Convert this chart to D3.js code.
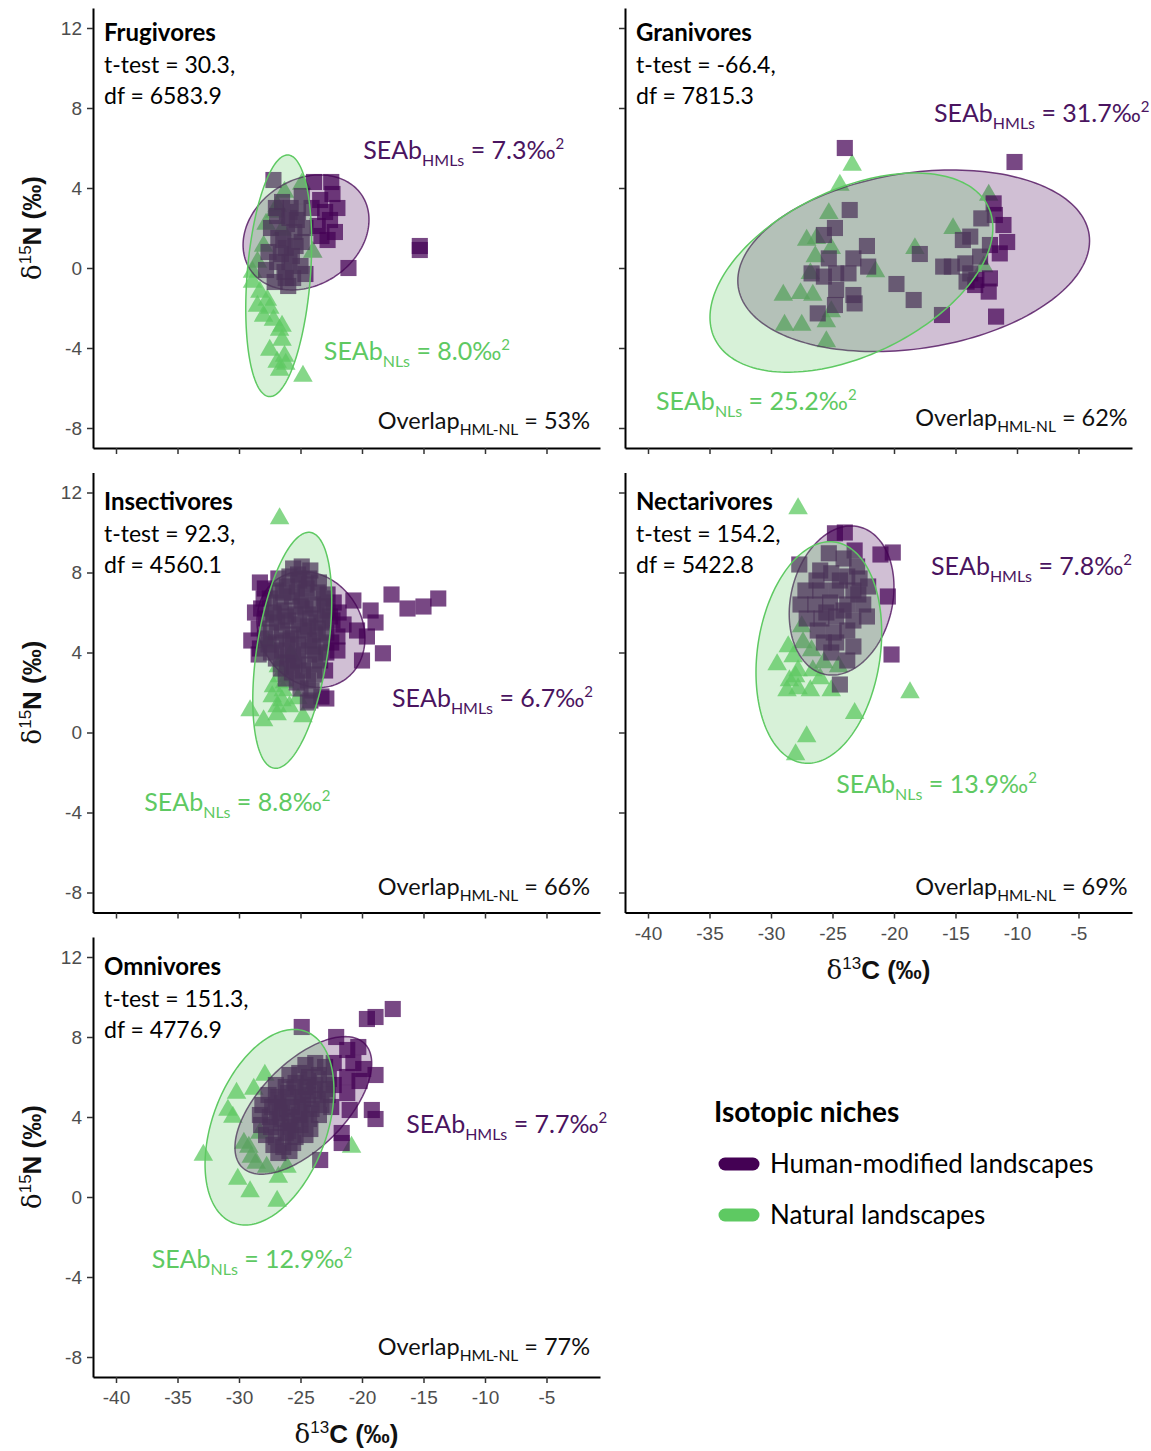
<!DOCTYPE html>
<html>
<head>
<meta charset="utf-8">
<script src="https://cdnjs.cloudflare.com/ajax/libs/d3/7.8.5/d3.min.js"></script>
<style>
  body { margin: 0; background: #fff; }
</style>
</head>
<body>
<div id="chart"></div>
<script>
// panel annotations
const guilds = ["Frugivores", "Granivores", "Insectivores", "Nectarivores", "Omnivores"];
const tTests = ["30.3", "-66.4", "92.3", "154.2", "151.3"];
const dfs = ["6583.9", "7815.3", "4560.1", "5422.8", "4776.9"];
const seabHML = ["7.3", "31.7", "6.7", "7.8", "7.7"];
const seabNL = ["8.0", "25.2", "8.8", "13.9", "12.9"];
const overlaps = ["53", "62", "66", "69", "77"];

const xTicks = [-40, -35, -30, -25, -20, -15, -10, -5];
const yTicks = [-8, -4, 0, 4, 8, 12];

// δ13C, δ15N of individuals: human-modified (HML) and natural (NL) landscapes
const frugHML = [[-27.2,4.4],[-26.5,3.3],[-25.8,3.0],[-26.9,2.6],[-25.2,2.8],[-26.1,2.2],[-27.4,2.0],[-25.5,1.8],[-26.8,1.5],
  [-24.9,1.3],[-26.2,1.0],[-27.6,0.8],[-25.7,0.6],[-26.9,0.3],[-25.0,0.1],[-26.3,-0.2],[-27.8,-0.1],[-25.6,-0.5],[-24.6,-0.3],
  [-27.1,-0.7],[-26.0,-0.9],[-25.3,2.4],[-24.6,2.0],[-24.9,3.6],[-27.0,3.0],[-26.4,1.4],[-25.9,0.3],[-23.9,4.3],[-22.5,4.3],
  [-22.4,3.7],[-23.4,3.4],[-22.0,3.0],[-23.0,2.8],[-22.6,2.4],[-23.6,2.1],[-22.2,1.8],[-22.8,1.4],[-23.3,1.6],[-24.1,3.0],
  [-21.1,0.0],[-15.3,1.1],[-15.3,0.9],[-25.9,2.5],[-26.6,0.7],[-25.4,1.1],[-26.2,-0.5]];
const frugNL = [[-24.9,4.2],[-26.3,3.8],[-26.9,3.1],[-27.1,2.8],[-24.0,0.8],[-28.0,1.1],[-28.5,0.3],[-28.9,-0.2],[-28.9,-0.7],
  [-28.3,-1.2],[-27.7,-1.6],[-28.5,-1.9],[-27.5,-2.0],[-28.0,-2.4],[-27.2,-2.6],[-26.7,-3.1],[-26.5,-2.9],[-26.5,-3.6],
  [-27.5,-4.1],[-26.3,-4.4],[-26.2,-4.8],[-26.9,-4.7],[-26.7,-5.1],[-24.8,-5.4],[-26.5,1.9],[-27.8,2.2]];

const granHML = [[-24.0,6.0],[-10.2,5.3],[-23.6,2.9],[-24.8,2.0],[-25.7,1.65],[-22.2,1.1],[-25.3,0.48],[-23.3,0.48],[-26.7,-0.27],
  [-25.7,-0.43],[-24.7,-0.27],[-23.7,-0.27],[-22.1,0.07],[-19.8,-0.8],[-18.4,-1.6],[-24.7,-1.1],[-23.3,-1.35],[-23.2,-1.77],
  [-24.8,-1.85],[-26.2,-2.27],[-17.9,0.7],[-16.1,-2.35],[-16.0,0.07],[-15.3,0.07],[-14.2,0.23],[-14.4,1.4],[-13.8,1.57],
  [-12.9,2.48],[-11.9,3.23],[-11.8,2.65],[-11.1,2.15],[-10.8,1.3],[-12.2,1.15],[-11.4,0.73],[-13.0,0.57],[-14.1,-0.68],
  [-13.3,-0.6],[-12.2,-0.52],[-12.3,-1.18],[-11.7,-2.43],[-13.4,-0.85],[-13.8,-0.27]];
const granNL = [[-23.4,5.15],[-24.4,4.15],[-25.3,2.73],[-27.1,1.4],[-26.3,1.48],[-25.1,0.98],[-26.4,0.57],[-21.5,-0.18],
  [-18.3,0.98],[-15.2,1.98],[-12.3,3.65],[-29.0,-1.35],[-27.6,-1.27],[-26.6,-1.35],[-28.9,-2.85],[-27.5,-2.85],[-25.5,-2.68],
  [-25.5,-3.68],[-25.1,-2.18],[-26.8,-0.27],[-12.7,0.07]];

const insHML = [[-25.6,8.2],[-24.9,8.3],[-24.2,8.1],
  [-26.8,7.7],[-25.9,7.8],[-25.1,7.6],[-24.3,7.7],[-23.5,7.5],
  [-27.9,7.2],[-27.0,7.1],[-26.1,7.3],[-25.3,7.0],[-24.5,7.2],[-23.6,7.0],[-22.8,6.9],
  [-27.5,6.7],[-26.6,6.5],[-25.7,6.8],[-24.9,6.6],[-24.0,6.4],[-23.1,6.7],[-22.3,6.5],
  [-28.2,6.2],[-27.2,6.0],[-26.3,6.1],[-25.4,5.9],[-24.6,6.2],[-23.7,5.9],[-22.8,6.1],[-21.9,6.0],
  [-27.8,5.7],[-26.9,5.5],[-26.0,5.6],[-25.1,5.4],[-24.2,5.7],[-23.3,5.5],[-22.4,5.6],[-21.5,5.4],
  [-28.4,5.2],[-27.4,5.0],[-26.5,5.1],[-25.6,4.9],[-24.7,5.1],[-23.8,4.9],[-22.9,5.0],[-22.0,4.8],
  [-27.9,4.7],[-27.0,4.5],[-26.1,4.6],[-25.2,4.4],[-24.3,4.6],[-23.4,4.4],[-22.5,4.5],
  [-28.3,4.2],[-27.4,4.0],[-26.5,4.1],[-25.6,3.9],[-24.7,4.1],[-23.8,3.9],[-22.9,4.0],[-22.0,4.1],
  [-27.0,3.7],[-26.1,3.5],[-25.2,3.6],[-24.3,3.4],[-23.4,3.6],
  [-26.6,3.2],[-25.7,3.0],[-24.8,3.1],[-23.9,2.9],[-23.0,3.1],
  [-26.2,2.7],[-25.3,2.5],[-24.4,2.6],[-25.0,2.2],[-24.1,2.1],
  [-25.2,7.9],[-24.6,7.4],[-26.4,7.0],[-25.0,6.3],[-26.2,5.8],[-24.4,5.3],[-25.8,4.7],[-24.0,4.3],
  [-26.0,3.8],[-23.6,5.2],[-22.6,5.8],[-27.2,5.9],[-27.6,4.4],[-23.0,6.3],[-25.5,3.3],
  [-28.3,7.5],[-28.7,6.0],[-29.0,4.6],[-28.4,3.9],[-28.0,6.7],
  [-19.3,6.1],[-18.9,5.5],[-19.6,4.8],[-20.0,3.6],[-18.3,3.96],[-20.7,6.6],[-20.4,5.1],
  [-22.9,1.7],[-24.4,1.5],[-24.2,1.6],[-23.3,1.8],
  [-17.6,6.9],[-16.3,6.2],[-15.0,6.3],[-13.8,6.7]];
const insNL = [[-26.7,10.7],[-26.7,2.8],[-27.2,2.3],[-26.4,2.1],[-27.3,1.8],[-26.5,1.6],[-26.9,1.3],[-25.9,1.3],
  [-29.1,1.1],[-28.0,0.6],[-26.9,0.9],[-24.8,0.8],[-25.2,1.7],[-26.3,2.5],[-26.8,3.3],[-25.8,3.9],[-27.6,4.5]];

const nectHML = [[-24.8,9.96],[-24.0,10.0],[-23.2,9.1],[-21.1,8.9],[-20.1,9.0],[-27.7,8.4],[-25.3,8.96],[-24.1,8.7],
  [-26.0,8.1],[-25.1,7.96],[-23.8,7.8],[-22.8,7.7],[-27.2,7.1],[-26.0,7.1],[-24.7,7.1],[-23.3,7.1],[-22.1,7.3],[-20.5,6.8],
  [-27.6,6.4],[-26.4,6.4],[-25.2,6.5],[-23.8,6.4],[-22.5,6.4],[-27.1,5.7],[-25.9,5.7],[-24.7,5.8],[-23.3,5.6],[-22.2,5.8],
  [-26.2,5.1],[-24.9,5.0],[-23.8,5.1],[-25.7,4.5],[-24.7,4.5],[-23.3,4.3],[-25.1,4.0],[-23.8,3.6],[-20.2,3.9],[-24.4,2.4],
  [-26.3,7.6],[-24.4,7.6],[-23.0,8.3],[-25.5,6.0],[-24.1,6.1],[-22.9,6.9]];
const nectNL = [[-27.8,11.2],[-18.7,2.0],[-23.2,0.96],[-27.1,-0.2],[-28.0,-1.1],[-29.5,3.4],[-28.6,4.3],[-28.2,3.8],
  [-27.8,3.1],[-28.5,2.6],[-28.7,2.1],[-27.8,2.2],[-26.8,2.1],[-26.0,2.7],[-26.6,3.1],[-25.1,2.1],[-27.4,4.5],[-27.5,5.3],
  [-26.7,4.1],[-25.7,3.5],[-24.5,3.3],[-28.0,2.8]];

const omniHML = [[-17.5,9.4],[-18.9,9.0],[-19.6,8.9],[-24.9,8.5],[-22.1,8.0],[-20.3,7.5],[-21.2,7.35],[-20.7,6.7],
  [-19.9,6.4],[-18.9,6.1],[-21.2,6.0],[-22.3,6.7],[-21.2,5.2],[-21.0,4.35],[-19.2,4.35],[-18.9,3.9],[-21.65,2.7],
  [-23.4,1.85],[-20.2,5.8],[-21.65,3.2],
  [-24.6,6.6],[-23.8,6.7],[-23.0,6.5],
  [-25.9,6.1],[-25.1,6.2],[-24.3,6.0],[-23.5,6.1],[-22.7,5.9],
  [-27.0,5.6],[-26.2,5.5],[-25.4,5.7],[-24.6,5.5],[-23.8,5.6],[-23.0,5.4],[-22.3,5.6],
  [-27.6,5.1],[-26.8,5.0],[-26.0,5.2],[-25.2,5.0],[-24.4,5.1],[-23.6,4.9],[-22.8,5.1],
  [-28.1,4.6],[-27.3,4.5],[-26.5,4.7],[-25.7,4.5],[-24.9,4.6],[-24.1,4.4],[-23.3,4.6],[-22.5,4.5],
  [-28.3,4.1],[-27.5,4.0],[-26.7,4.2],[-25.9,4.0],[-25.1,4.1],[-24.3,3.9],[-23.5,4.1],
  [-28.2,3.6],[-27.4,3.5],[-26.6,3.7],[-25.8,3.5],[-25.0,3.6],[-24.2,3.4],
  [-27.8,3.1],[-27.0,3.0],[-26.2,3.2],[-25.4,3.0],[-24.6,3.1],
  [-27.2,2.6],[-26.4,2.5],[-25.6,2.7],[-26.8,2.2],[-25.9,2.3],
  [-25.5,5.4],[-24.8,4.9],[-26.1,4.4],[-25.4,3.8],[-24.4,5.8],[-26.9,3.9],[-23.9,5.3],[-27.0,4.8],[-26.0,3.3],[-24.6,4.2]];
const omniNL = [[-32.9,2.1],[-30.2,5.2],[-28.8,5.4],[-27.9,6.1],[-30.9,4.35],[-30.5,4.0],[-29.6,2.7],[-29.2,2.5],
  [-30.1,0.9],[-29.1,0.27],[-26.9,-0.2],[-28.6,1.7],[-27.75,1.5],[-26.8,1.0],[-26.1,1.5],[-20.85,2.5],[-28.3,3.2],[-29.0,2.0]];

// standard ellipses: [mean x, mean y, sd x, sd y, correlation]
const ellipseHML = [[-24.55,1.78,5.12,2.875,0.22],[-18.4,0.36,14.3,4.54,0.22],[-24.15,5.15,4.39,2.9,-0.15],
  [-24.26,6.6,4.26,3.73,0.18],[-24.77,4.58,5.56,3.44,0.61]];
const ellipseNL = [[-26.77,-0.39,2.68,6.04,0.27],[-23.46,-0.23,11.5,4.98,0.45],[-25.67,4.11,3.21,5.9,0.42],
  [-26.11,4.0,5.11,5.54,0.18],[-27.52,3.49,5.24,4.89,0.38]];

const hmlPoints = [frugHML, granHML, insHML, nectHML, omniHML];
const nlPoints = [frugNL, granNL, insNL, nectNL, omniNL];

// label anchors in data units
const hmlLabelAt = [[-19.9,5.9],[-16.75,7.75],[-17.56,1.73],[-16.99,8.3],[-16.4,3.65]];
const nlLabelAt = [[-23.1,-4.15],[-39.35,-6.65],[-37.7,-3.5],[-24.7,-2.6],[-37.1,-3.1]];
const overlapAt = [[-1.46,-7.65],[-1.0,-7.5],[-1.46,-7.7],[-1.0,-7.7],[-1.46,-7.5]];

const purple = "#440154", green = "#5ec962";
const textPurple = "#4a1460";
const font = "Lato, 'Open Sans', sans-serif";

const width = 1151, height = 1451;
const pw = 507, ph = 440;
const layout = [
  { left: 93, top: 8, head: 25, xLab: false, yLab: true },
  { left: 625, top: 8, head: 25, xLab: false, yLab: false },
  { left: 93, top: 472.5, head: 29.5, xLab: false, yLab: true },
  { left: 625, top: 472.5, head: 29.5, xLab: true, yLab: false },
  { left: 93, top: 937, head: 30, xLab: true, yLab: true }
];

const svg = d3.select("#chart").append("svg")
  .attr("width", width)
  .attr("height", height)
  .style("font-family", font);

const x = d3.scaleLinear().domain([-41.87, -0.65]).range([0, pw]);
const y = d3.scaleLinear().domain([-9, 13]).range([ph, 0]);

const ellipsePath = e => {
  const [cx, cy, sx, sy, r] = e;
  const pts = d3.range(0, 2 * Math.PI, Math.PI / 90).map(t => [
    x(cx + sx * Math.cos(t)),
    y(cy + sy * (r * Math.cos(t) + Math.sqrt(1 - r * r) * Math.sin(t)))
  ]);
  return d3.line().curve(d3.curveLinearClosed)(pts);
};

const square = d3.symbol().type(d3.symbolSquare).size(260)();
const triangle = d3.symbol().type(d3.symbolTriangle).size(165)();

// SEAb label with subscript and superscript
function seabText(g, px, py, sub, val, color) {
  const t = g.append("text")
    .attr("x", px).attr("y", py).attr("dy", "0.35em")
    .attr("fill", color).style("font-size", "25px");
  t.append("tspan").text("SEAb");
  t.append("tspan").attr("dy", 7).style("font-size", "16px").text(sub);
  t.append("tspan").attr("dy", -7).text(" = " + val + "‰");
  t.append("tspan").attr("dy", -10).style("font-size", "15px").text("2");
}

layout.forEach((p, i) => {
  const g = svg.append("g").attr("transform", `translate(${p.left},${p.top})`);

  // points
  g.selectAll(".tri").data(nlPoints[i]).enter().append("path")
    .attr("d", triangle)
    .attr("transform", d => `translate(${x(d[0])},${y(d[1])})`)
    .attr("fill", green).attr("fill-opacity", 0.75);

  g.selectAll(".sq").data(hmlPoints[i]).enter().append("path")
    .attr("d", square)
    .attr("transform", d => `translate(${x(d[0])},${y(d[1])})`)
    .attr("fill", purple).attr("fill-opacity", 0.72);

  // ellipses
  g.append("path").attr("d", ellipsePath(ellipseHML[i]))
    .attr("fill", purple).attr("fill-opacity", 0.25)
    .attr("stroke", purple).attr("stroke-opacity", 0.75).attr("stroke-width", 1.5);
  g.append("path").attr("d", ellipsePath(ellipseNL[i]))
    .attr("fill", green).attr("fill-opacity", 0.25)
    .attr("stroke", green).attr("stroke-width", 1.5);

  // axes
  const ya = g.append("g").call(d3.axisLeft(y).tickValues(yTicks).tickFormat(d => String(d))
    .tickSize(6).tickSizeOuter(0).tickPadding(5));
  const xa = g.append("g").attr("transform", `translate(0,${ph})`)
    .call(d3.axisBottom(x).tickValues(xTicks).tickFormat(d => String(d))
      .tickSize(6).tickSizeOuter(0).tickPadding(8));
  [ya, xa].forEach(a => {
    a.select(".domain").attr("stroke", "#000").attr("stroke-width", 2);
    a.selectAll(".tick line").attr("stroke", "#333").attr("stroke-width", 1.5);
    a.selectAll(".tick text").attr("fill", "#4d4d4d")
      .style("font-size", "19px").style("font-family", "'Liberation Sans', Arial, sans-serif");
  });
  if (!p.yLab) ya.selectAll(".tick text").remove();
  if (!p.xLab) xa.selectAll(".tick text").remove();

  // header
  g.append("text").attr("x", 11).attr("y", p.head).attr("dy", "0.35em")
    .style("font-size", "24px").style("font-weight", "bold").text(guilds[i]);
  g.append("text").attr("x", 11).attr("y", p.head + 32).attr("dy", "0.35em")
    .style("font-size", "23px").text(`t-test = ${tTests[i]},`);
  g.append("text").attr("x", 11).attr("y", p.head + 63).attr("dy", "0.35em")
    .style("font-size", "23px").text(`df = ${dfs[i]}`);

  seabText(g, x(hmlLabelAt[i][0]), y(hmlLabelAt[i][1]), "HMLs", seabHML[i], textPurple);
  seabText(g, x(nlLabelAt[i][0]), y(nlLabelAt[i][1]), "NLs", seabNL[i], green);

  const ov = g.append("text")
    .attr("x", x(overlapAt[i][0])).attr("y", y(overlapAt[i][1])).attr("dy", "0.35em")
    .attr("text-anchor", "end").style("font-size", "23.5px").attr("fill", "#111");
  ov.append("tspan").text("Overlap");
  ov.append("tspan").attr("dy", 6).style("font-size", "15.5px").text("HML-NL");
  ov.append("tspan").attr("dy", -6).text(" = " + overlaps[i] + "%");

  // axis titles
  if (p.yLab) {
    const yt = svg.append("text")
      .attr("transform", `translate(${p.left - 61},${p.top + ph / 2}) rotate(-90)`)
      .attr("text-anchor", "middle").attr("dy", "0.35em").style("font-size", "26px").attr("fill", "#111");
    yt.append("tspan").style("font-family", "'DejaVu Serif', serif").text("δ");
    yt.append("tspan").attr("dy", -10).style("font-size", "17px").style("font-family", "'Liberation Sans', sans-serif").text("15");
    yt.append("tspan").attr("dy", 10).style("font-weight", "bold").style("font-family", "'Liberation Sans', sans-serif").text("N (‰)");
  }
  if (p.xLab) {
    const xt = svg.append("text")
      .attr("x", p.left + pw / 2).attr("y", p.top + ph + 57).attr("dy", "0.35em")
      .attr("text-anchor", "middle").style("font-size", "26px").attr("fill", "#111");
    xt.append("tspan").style("font-family", "'DejaVu Serif', serif").text("δ");
    xt.append("tspan").attr("dy", -10).style("font-size", "17px").style("font-family", "'Liberation Sans', sans-serif").text("13");
    xt.append("tspan").attr("dy", 10).style("font-weight", "bold").style("font-family", "'Liberation Sans', sans-serif").text("C (‰)");
  }
});

// legend
const legendItems = ["Human-modified landscapes", "Natural landscapes"];
const legendColors = [purple, green];
const lg = svg.append("g").attr("transform", "translate(714,1112)");
lg.append("text").attr("dy", "0.35em").style("font-size", "28px").style("font-weight", "bold").text("Isotopic niches");
legendItems.forEach((name, i) => {
  const yy = 52 + i * 51;
  lg.append("line").attr("x1", 11).attr("x2", 39).attr("y1", yy).attr("y2", yy)
    .attr("stroke", legendColors[i]).attr("stroke-width", 13).attr("stroke-linecap", "round");
  lg.append("text").attr("x", 56).attr("y", yy).attr("dy", "0.35em").style("font-size", "26px").text(name);
});
</script>
</body>
</html>
